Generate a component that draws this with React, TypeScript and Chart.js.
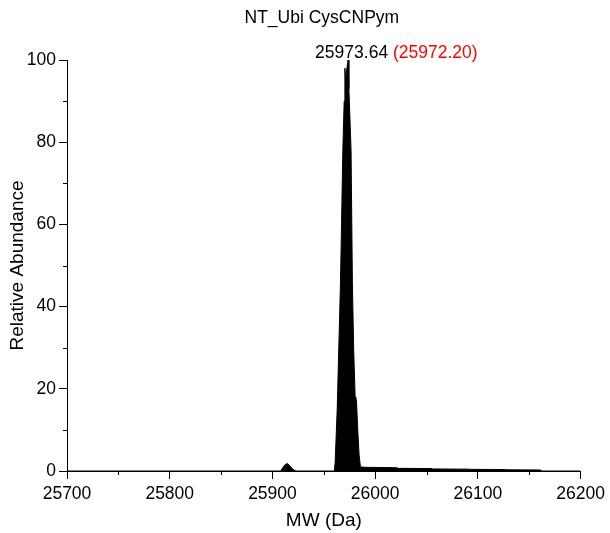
import React, { useEffect, useRef } from "react";
import { Chart, registerables } from "chart.js";

Chart.register(...registerables);

const mw = [25700, 25908, 25910, 25912.5, 25914.5, 25916.5, 25918.5, 25921, 25923, 25960.2, 25961, 25963, 25966.2, 25968.5, 25969.8, 25970.5, 25971.2, 25972.0, 25973.0, 25973.64, 25974.4, 25976.5, 25977.8, 25979, 25980.6, 25981, 25981.8, 25983, 25984.3, 25985.6, 25990, 26021, 26022, 26055, 26056, 26091, 26092, 26127, 26128, 26161, 26162, 26200];
const abundance = [0, 0, 0.8, 1.6, 1.8, 1.4, 0.8, 0.2, 0, 0, 2, 15, 45.7, 78, 90, 98, 95, 97, 99, 100, 93, 78, 45.7, 30, 17, 18, 17, 10, 4, 1, 0.9, 0.8, 0.65, 0.6, 0.5, 0.45, 0.4, 0.35, 0.3, 0.25, 0, 0];

const xMinorTicks = [25750, 25850, 25950, 26050, 26150];
const yMinorTicks = [10, 30, 50, 70, 90];

const chartTitle = "NT_Ubi CysCNPym";
const xTitle = "MW (Da)";
const yTitle = "Relative Abundance";
const peakMw = 25973.64;
const peakAbundance = 100;
const peakLabel = "25973.64";
const theoreticalLabel = "(25972.20)";

const FONT = "'Liberation Sans', Arial, Helvetica, sans-serif";

const overlayPlugin = {
  id: "overlay",
  afterDraw(chart: any) {
    const ctx = chart.ctx;
    const xs = chart.scales.x;
    const ys = chart.scales.y;
    const area = chart.chartArea;
    ctx.save();
    // minor ticks
    ctx.strokeStyle = "#000";
    ctx.lineWidth = 1;
    ctx.beginPath();
    for (const v of xMinorTicks) {
      const px = Math.round(xs.getPixelForValue(v)) + 0.5;
      ctx.moveTo(px, area.bottom);
      ctx.lineTo(px, area.bottom + 4);
    }
    for (const v of yMinorTicks) {
      const py = Math.round(ys.getPixelForValue(v)) + 0.5;
      ctx.moveTo(area.left, py);
      ctx.lineTo(area.left - 4, py);
    }
    ctx.stroke();
    // title
    ctx.fillStyle = "#000";
    ctx.font = `17.5px ${FONT}`;
    ctx.textAlign = "center";
    ctx.textBaseline = "middle";
    ctx.fillText(chartTitle, (area.left + area.right) / 2 - 2, 18);
    // peak labels
    const px = xs.getPixelForValue(peakMw);
    const py = ys.getPixelForValue(peakAbundance);
    ctx.textAlign = "left";
    ctx.textBaseline = "alphabetic";
    const startX = px - 33;
    ctx.fillText(peakLabel, startX, py - 2);
    const w = ctx.measureText(peakLabel + " ").width;
    ctx.fillStyle = "#ff0000";
    ctx.fillText(theoreticalLabel, startX + w, py - 2);
    ctx.restore();
  },
};

export default function App() {
  const ref = useRef<HTMLCanvasElement>(null);
  useEffect(() => {
    if (!ref.current) return;
    const chart = new Chart(ref.current, {
      type: "line",
      data: {
        datasets: [
          {
            data: mw.map((x, i) => ({ x, y: abundance[i] })),
            borderColor: "#000",
            backgroundColor: "#000",
            borderWidth: 1,
            fill: "origin",
            pointRadius: 0,
            tension: 0,
          },
        ],
      },
      options: {
        responsive: false,
        animation: false,
        layout: { padding: { top: 60, right: 28, bottom: 0, left: 0 } },
        plugins: { legend: { display: false }, tooltip: { enabled: false }, title: { display: false } },
        scales: {
          x: {
            type: "linear",
            min: 25700,
            max: 26200,
            afterFit: (s: any) => {
              s.height = 62;
            },
            ticks: {
              stepSize: 100,
              autoSkip: false,
              maxRotation: 0,
              color: "#000",
              padding: 5,
              font: { family: FONT, size: 17.5 },
              callback: (v: any) => String(v),
            },
            grid: { drawOnChartArea: false, drawTicks: true, tickLength: 8, color: "#000" },
            border: { display: true, color: "#000", width: 1 },
            title: {
              display: true,
              text: xTitle,
              color: "#000",
              font: { family: FONT, size: 19 },
              padding: { top: 0, bottom: 1 },
            },
          },
          y: {
            type: "linear",
            min: 0,
            max: 100,
            afterFit: (s: any) => {
              s.width = 67;
            },
            ticks: {
              stepSize: 20,
              color: "#000",
              padding: 3,
              font: { family: FONT, size: 17.5 },
              callback: (v: any) => String(v),
            },
            grid: { drawOnChartArea: false, drawTicks: true, tickLength: 8, color: "#000" },
            border: { display: true, color: "#000", width: 1 },
            title: {
              display: true,
              text: yTitle,
              color: "#000",
              font: { family: FONT, size: 19 },
              padding: { top: 6, bottom: 0 },
            },
          },
        },
      },
      plugins: [overlayPlugin],
    });
    return () => chart.destroy();
  }, []);
  return (
    <div style={{ position: "absolute", left: 0, top: 0, width: 610, height: 533, background: "#fff" }}>
      <canvas ref={ref} width={610} height={533} />
    </div>
  );
}
